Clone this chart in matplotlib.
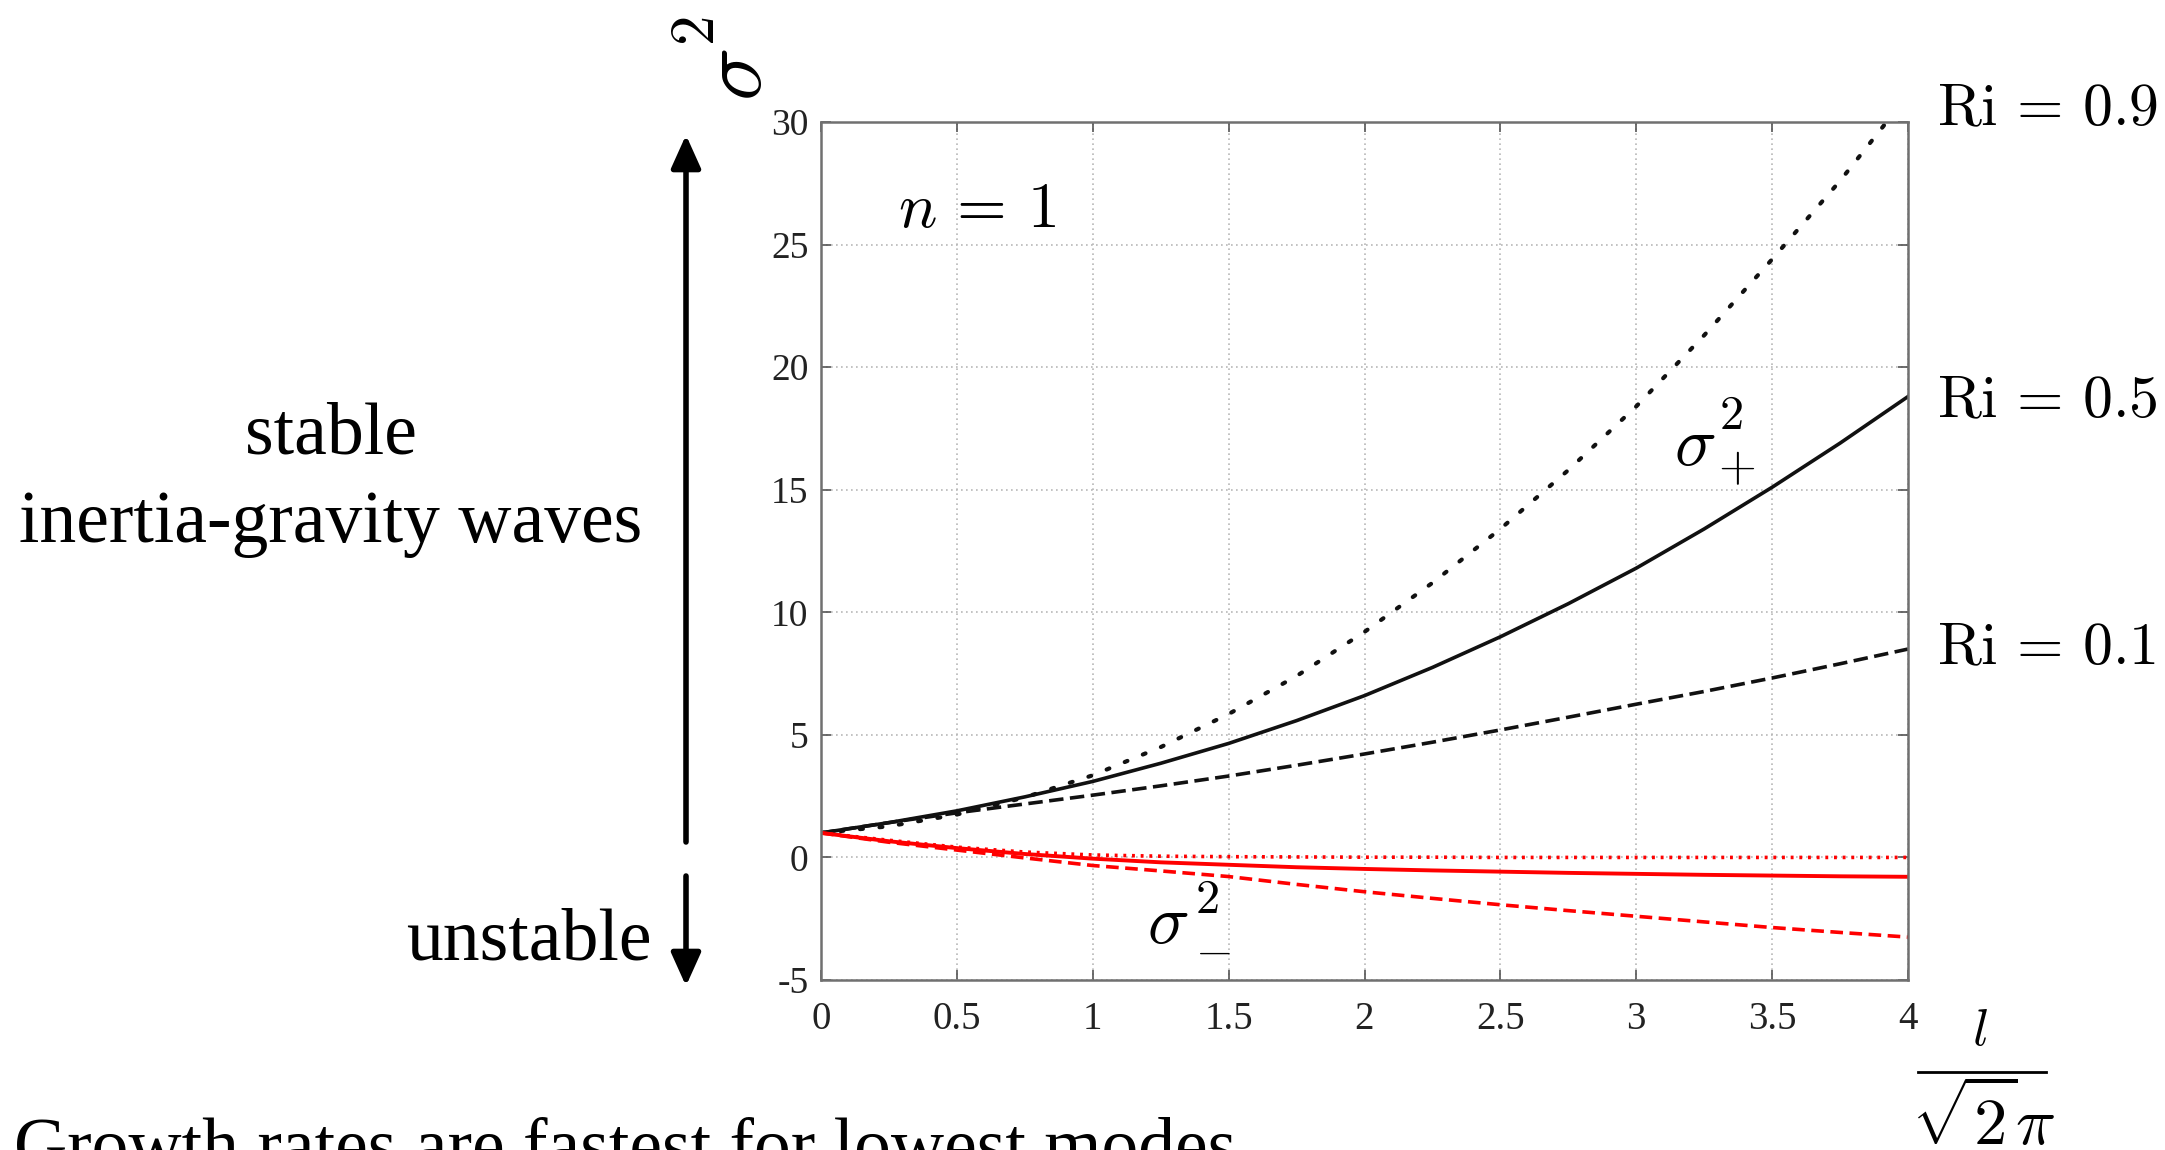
import matplotlib
matplotlib.use("Agg")
import matplotlib.pyplot as plt
from matplotlib.patches import ArrowStyle
from matplotlib.lines import Line2D

plt.rcParams['mathtext.fontset'] = 'cm'
plt.rcParams['font.family'] = ['Liberation Serif', 'DejaVu Serif']

# ---------------- data ----------------
l_scaled = [0, 0.25, 0.5, 0.75, 1, 1.25, 1.5, 1.75, 2, 2.25, 2.5, 2.75, 3, 3.25, 3.5, 3.75, 4]

# sigma_+^2 (black)
sp_ri09 = [1.0, 1.27, 1.75, 2.45, 3.35, 4.5, 5.85, 7.4, 9.2, 11.2, 13.4, 15.8, 18.4, 21.3, 24.4, 27.6, 31.1]
sp_ri05 = [1.0, 1.42, 1.9, 2.47, 3.1, 3.84, 4.65, 5.58, 6.6, 7.75, 9.0, 10.35, 11.8, 13.4, 15.1, 16.9, 18.8]
sp_ri01 = [1.0, 1.42, 1.82, 2.18, 2.54, 2.92, 3.32, 3.76, 4.22, 4.7, 5.2, 5.72, 6.25, 6.77, 7.32, 7.9, 8.5]

# sigma_-^2 (red)
sm_ri09 = [1.0, 0.7, 0.42, 0.22, 0.1, 0.05, 0.03, 0.02, 0.01, 0.01, 0.0, 0.0, 0.0, 0.0, 0.0, 0.0, 0.0]
sm_ri05 = [1.0, 0.66, 0.38, 0.14, -0.05, -0.2, -0.3, -0.4, -0.47, -0.53, -0.58, -0.63, -0.67, -0.71, -0.74, -0.77, -0.79]
sm_ri01 = [1.0, 0.62, 0.3, -0.02, -0.33, -0.55, -0.78, -1.1, -1.4, -1.67, -1.93, -2.17, -2.4, -2.63, -2.86, -3.06, -3.25]

xticks = [0, 0.5, 1, 1.5, 2, 2.5, 3, 3.5, 4]
xtick_labels = ['0', '0.5', '1', '1.5', '2', '2.5', '3', '3.5', '4']
yticks = [-5, 0, 5, 10, 15, 20, 25, 30]
ytick_labels = ['-5', '0', '5', '10', '15', '20', '25', '30']

ri_labels = [r'$\mathrm{Ri}\,=\,0.9$', r'$\mathrm{Ri}\,=\,0.5$', r'$\mathrm{Ri}\,=\,0.1$']

# ---------------- figure ----------------
W, H = 2165, 1150
fig = plt.figure(figsize=(W / 100, H / 100), dpi=100)

def fx(px):
    return px / W

def fy(py):
    return 1 - py / H

ax = fig.add_axes([fx(821), fy(980), fx(1908) - fx(821), fy(122) - fy(980)])

black = '#111111'
red = '#ff0000'
ax.plot(l_scaled, sp_ri09, color=black, lw=3.0, linestyle=(0, (0.7, 4.0)), dash_capstyle='round')
ax.plot(l_scaled, sp_ri05, color=black, lw=2.6, linestyle='-')
ax.plot(l_scaled, sp_ri01, color=black, lw=2.6, linestyle=(0, (4, 1.8)))
ax.plot(l_scaled, sm_ri09, color=red, lw=2.6, linestyle=(0, (0.8, 1.6)))
ax.plot(l_scaled, sm_ri05, color=red, lw=2.8, linestyle='-')
ax.plot(l_scaled, sm_ri01, color=red, lw=2.6, linestyle=(0, (3.5, 1.8)))

ax.set_xlim(0, 4)
ax.set_ylim(-5, 30)
ax.set_xticks(xticks)
ax.set_xticklabels(xtick_labels)
ax.set_yticks(yticks)
ax.set_yticklabels(ytick_labels)
ax.grid(True, color='#b8b8b8', linestyle=(0, (1, 2)), lw=1.2)
ax.tick_params(direction='in', length=7, width=1.2, color='#555555',
               top=True, right=True, labelcolor='#222222')
ax.tick_params(axis='x', pad=15, labelsize=28)
ax.tick_params(axis='y', pad=9, labelsize=27)
for s in ax.spines.values():
    s.set_color('#707070')
    s.set_linewidth(1.8)

# ---------------- annotations ----------------
# rotated sigma^2 at the top of the y axis
fig.text(fx(740), fy(75), r'$\sigma$', rotation=90, ha='center', va='center', fontsize=64)
fig.text(fx(699), fy(31), r'$2$', rotation=90, ha='center', va='center', fontsize=44)

fig.text(fx(898), fy(227), r'$n\,=\,1$', ha='left', va='baseline', fontsize=46)

# sigma_+^2
fig.text(fx(1695), fy(448), r'$\sigma$', ha='center', va='center', fontsize=50)
fig.text(fx(1731), fy(417), r'$2$', ha='center', va='center', fontsize=35)
fig.text(fx(1737), fy(469), r'$+$', ha='center', va='center', fontsize=35)

# sigma_-^2
fig.text(fx(1168), fy(926), r'$\sigma$', ha='center', va='center', fontsize=50)
fig.text(fx(1207), fy(901), r'$2$', ha='center', va='center', fontsize=35)
fig.text(fx(1213), fy(953), r'$-$', ha='center', va='center', fontsize=35)

for lab, yb in zip(ri_labels, [125, 417, 664]):
    fig.text(fx(1937), fy(yb), lab, ha='left', va='baseline', fontsize=43)

# axis label l / (sqrt(2) pi) as a stacked fraction
fig.text(fx(1980), fy(1045), r'$l$', ha='center', va='baseline', fontsize=38)
fig.add_artist(Line2D([fx(1918), fx(2046)], [fy(1072), fy(1072)], color='black', lw=2.0))
fig.text(fx(1983), fy(1084), r'$\sqrt{2}\pi$', ha='center', va='top', fontsize=48)

# left-side explanatory text
fig.text(fx(331), fy(453), 'stable', ha='center', va='baseline', fontsize=53)
fig.text(fx(331), fy(542), 'inertia-gravity waves', ha='center', va='baseline', fontsize=53)
fig.text(fx(652), fy(959), 'unstable', ha='right', va='baseline', fontsize=53)
fig.text(fx(14), fy(1169), 'Growth rates are fastest for lowest modes', ha='left', va='baseline', fontsize=53)

# arrows
astyle = ArrowStyle('-|>', head_length=1.0, head_width=0.45)
ax.annotate('', xy=(686, H - 135), xytext=(686, H - 842), xycoords='figure pixels',
            textcoords='figure pixels',
            arrowprops=dict(arrowstyle=astyle, lw=4, color='black', mutation_scale=20,
                            shrinkA=0, shrinkB=0))
ax.annotate('', xy=(686, H - 986), xytext=(686, H - 876), xycoords='figure pixels',
            textcoords='figure pixels',
            arrowprops=dict(arrowstyle=astyle, lw=4, color='black', mutation_scale=20,
                            shrinkA=0, shrinkB=0))

fig.savefig('out.png', dpi=100)
